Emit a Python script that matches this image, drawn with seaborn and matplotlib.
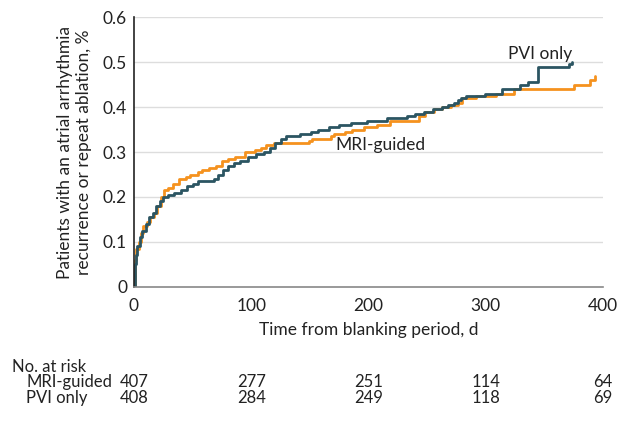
import pandas as pd
import seaborn as sns
import matplotlib.pyplot as plt

# ---------------------------------------------------------
# data (cumulative incidence, step curve)
# ---------------------------------------------------------
pvi_days = [0, 1, 2, 3, 5, 7, 10, 13, 16, 19, 22, 25, 29, 34, 40, 45, 50, 55,
            62, 68, 72, 76, 80, 85, 90, 97, 104, 111, 116, 120, 125, 130, 142,
            151, 157, 166, 175, 185, 199, 216, 233, 240, 247, 255, 263, 268,
            273, 276, 279, 283, 299, 314, 329, 336, 345, 371, 374]
pvi_vals = [0, 0.05, 0.07, 0.09, 0.11, 0.125, 0.14, 0.155, 0.165, 0.18, 0.19,
            0.2, 0.205, 0.21, 0.215, 0.225, 0.23, 0.235, 0.235, 0.24, 0.25,
            0.26, 0.27, 0.275, 0.28, 0.29, 0.295, 0.30, 0.31, 0.32, 0.33,
            0.335, 0.34, 0.345, 0.35, 0.355, 0.36, 0.365, 0.37, 0.375, 0.38,
            0.385, 0.39, 0.395, 0.40, 0.405, 0.41, 0.415, 0.42, 0.425, 0.43,
            0.44, 0.45, 0.455, 0.49, 0.495, 0.5]

mri_days = [0, 1, 2, 4, 6, 8, 11, 14, 17, 20, 23, 26, 29, 33, 38, 44, 48, 55,
            58, 64, 70, 75, 80, 86, 95, 103, 108, 113, 119, 149, 152, 168, 171,
            180, 186, 196, 207, 218, 243, 248, 256, 263, 270, 276, 280, 292,
            309, 324, 375, 389, 393]
mri_vals = [0, 0.06, 0.085, 0.1, 0.12, 0.135, 0.145, 0.155, 0.165, 0.18, 0.2,
            0.215, 0.22, 0.23, 0.24, 0.245, 0.25, 0.255, 0.26, 0.265, 0.27,
            0.28, 0.285, 0.29, 0.30, 0.305, 0.31, 0.315, 0.32, 0.325, 0.33,
            0.335, 0.34, 0.345, 0.35, 0.355, 0.36, 0.37, 0.38, 0.39, 0.395,
            0.40, 0.405, 0.41, 0.42, 0.425, 0.43, 0.44, 0.45, 0.46, 0.47]

risk_days = [0, 100, 200, 300, 400]
risk_mri = [407, 277, 251, 114, 64]
risk_pvi = [408, 284, 249, 118, 69]

colors = {"MRI-guided": "#f5921e", "PVI only": "#2b5562"}

df = pd.concat([
    pd.DataFrame({"day": mri_days, "value": mri_vals, "group": "MRI-guided"}),
    pd.DataFrame({"day": pvi_days, "value": pvi_vals, "group": "PVI only"}),
])

# ---------------------------------------------------------
# figure
# ---------------------------------------------------------
sns.set_style("white")
plt.rcParams["font.family"] = ["Lato", "DejaVu Sans"]
plt.rcParams["font.size"] = 12

fig = plt.figure(figsize=(6.22, 4.21), dpi=100)
ax = fig.add_axes([0.2154, 0.3183, 0.754, 0.6413])

for y in [0.1, 0.2, 0.3, 0.4, 0.5, 0.6]:
    ax.axhline(y, color="#dddddd", lw=1, zorder=0)

sns.lineplot(data=df, x="day", y="value", hue="group", palette=colors,
             estimator=None, sort=False, drawstyle="steps-post",
             linewidth=2, legend=False, ax=ax)

ax.set_xlim(0, 400)
ax.set_ylim(0, 0.6)
ax.set_xticks(risk_days)
ax.set_yticks([0, 0.1, 0.2, 0.3, 0.4, 0.5, 0.6])
ax.set_yticklabels(["0", "0.1", "0.2", "0.3", "0.4", "0.5", "0.6"])
ax.tick_params(axis="x", direction="out", length=5, color="#777777",
               labelsize=12.5, pad=3, labelcolor="#222222")
ax.tick_params(axis="y", length=0, labelsize=12.5, pad=5, labelcolor="#222222")

for side in ["top", "right"]:
    ax.spines[side].set_visible(False)
ax.spines["left"].set_color("#222222")
ax.spines["bottom"].set_color("#888888")
ax.spines["left"].set_linewidth(1.2)
ax.spines["bottom"].set_linewidth(1.2)

ax.set_xlabel("Time from blanking period, d", fontsize=12.5, color="#222222",
              labelpad=6)
ax.set_ylabel("Patients with an atrial arrhythmia\nrecurrence or repeat ablation, %",
              fontsize=12.5, color="#222222", labelpad=8)

ax.text(346, 0.518, "PVI only", ha="center", va="center", fontsize=12.5,
        color="#222222")
ax.text(210, 0.316, "MRI-guided", ha="center", va="center", fontsize=12.5,
        color="#222222")

# number at risk table
fig.text(12 / 622, 1 - 367 / 421, "No. at risk", fontsize=12, color="#222222",
         va="center")
fig.text(26 / 622, 1 - 382 / 421, "MRI-guided", fontsize=12, color="#222222",
         va="center")
fig.text(26 / 622, 1 - 398 / 421, "PVI only", fontsize=12, color="#222222",
         va="center")
trans = ax.get_xaxis_transform()
for d, m, p in zip(risk_days, risk_mri, risk_pvi):
    ax.text(d, -0.352, str(m), transform=trans, ha="center", va="center",
            fontsize=12, color="#222222", clip_on=False)
    ax.text(d, -0.411, str(p), transform=trans, ha="center", va="center",
            fontsize=12, color="#222222", clip_on=False)

fig.savefig("out.png", dpi=100)
